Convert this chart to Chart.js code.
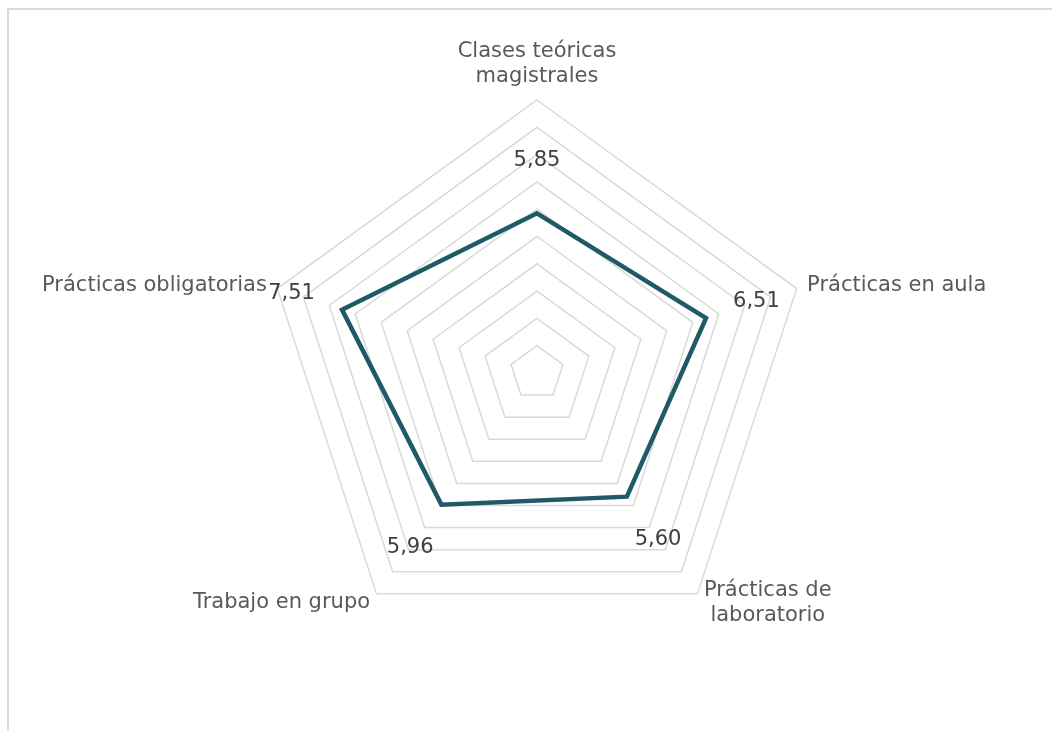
<!DOCTYPE html>
<html>
<head>
<meta charset="utf-8">
<script src="https://cdn.jsdelivr.net/npm/chart.js@4"></script>
<style>
  html, body { margin: 0; padding: 0; background: #ffffff; }
  #wrap { position: relative; width: 1052px; height: 731px; overflow: hidden; }
  #frame { position: absolute; left: 7px; top: 8px; width: 1100px; height: 800px;
           border-top: 2px solid #d9d9d9; border-left: 2px solid #d9d9d9; box-sizing: border-box; }
  canvas { position: absolute; left: 0; top: 0; }
</style>
</head>
<body>
<div id="wrap">
  <div id="frame"></div>
  <canvas id="c" width="1052" height="731"></canvas>
</div>
<script>
// ---- data ----
const categories = [
  ["Clases teóricas", "magistrales"],
  ["Prácticas en aula"],
  ["Prácticas de", "laboratorio"],
  ["Trabajo en grupo"],
  ["Prácticas obligatorias"]
];
const values = [5.85, 6.51, 5.60, 5.96, 7.51];
const scaleMin = 0;
const scaleMax = 10;
const scaleStep = 1;

// ---- style ----
const FONT = '"DejaVu Sans", Verdana, sans-serif';
const LABEL_SIZE = 21;
const LINE_H = 25;

const customLabels = {
  id: 'customLabels',
  afterDatasetsDraw(chart) {
    const scale = chart.scales.r;
    const ctx = chart.ctx;
    ctx.save();
    // category labels
    ctx.font = LABEL_SIZE + 'px ' + FONT;
    ctx.fillStyle = '#595959';
    ctx.textBaseline = 'middle';
    const n = chart.data.labels.length;
    for (let i = 0; i < n; i++) {
      const lines = chart.data.labels[i];
      const v = scale.getPointPosition(i, scale.drawingArea);
      const a = scale.getIndexAngle(i);
      const s = Math.sin(a), c = Math.cos(a);
      const off = 11;
      const dx = off * s, dy = -off * c;
      const widths = lines.map(t => ctx.measureText(t).width);
      const bw = Math.max(...widths);
      const bh = lines.length * LINE_H;
      let cx;
      if (Math.abs(s) < 0.05) cx = v.x;
      else if (s > 0) cx = v.x + dx + bw / 2;
      else cx = v.x + dx - bw / 2;
      let top;
      if (c > 0.95) top = v.y + dy - bh;
      else if (c < -0.95) top = v.y + dy;
      else top = v.y + dy - bh / 2;
      ctx.textAlign = 'center';
      lines.forEach((t, k) => ctx.fillText(t, cx, top + LINE_H / 2 + k * LINE_H));
    }
    // value labels
    ctx.fillStyle = '#404040';
    ctx.textAlign = 'center';
    const data = chart.data.datasets[0].data;
    data.forEach((val, i) => {
      const d = scale.getDistanceFromCenterForValue(val) + 53;
      const p = scale.getPointPosition(i, d);
      ctx.fillText(val.toFixed(2).replace('.', ','), p.x, p.y);
    });
    ctx.restore();
  }
};

new Chart(document.getElementById('c'), {
  type: 'radar',
  data: {
    labels: categories,
    datasets: [{
      data: values,
      borderColor: '#1F5A66',
      borderWidth: 4.5,
      borderJoinStyle: 'miter',
      fill: false,
      pointRadius: 0,
      pointHoverRadius: 0,
      tension: 0
    }]
  },
  options: {
    responsive: false,
    animation: false,
    events: [],
    layout: { padding: { left: 264, right: 242, top: 100, bottom: 85 } },
    plugins: { legend: { display: false }, tooltip: { enabled: false } },
    scales: {
      r: {
        min: scaleMin,
        max: scaleMax,
        ticks: { display: false, stepSize: scaleStep },
        grid: { color: '#d9d9d9', lineWidth: 1.5 },
        angleLines: { display: false },
        pointLabels: { display: false }
      }
    }
  },
  plugins: [customLabels]
});
</script>
</body>
</html>
